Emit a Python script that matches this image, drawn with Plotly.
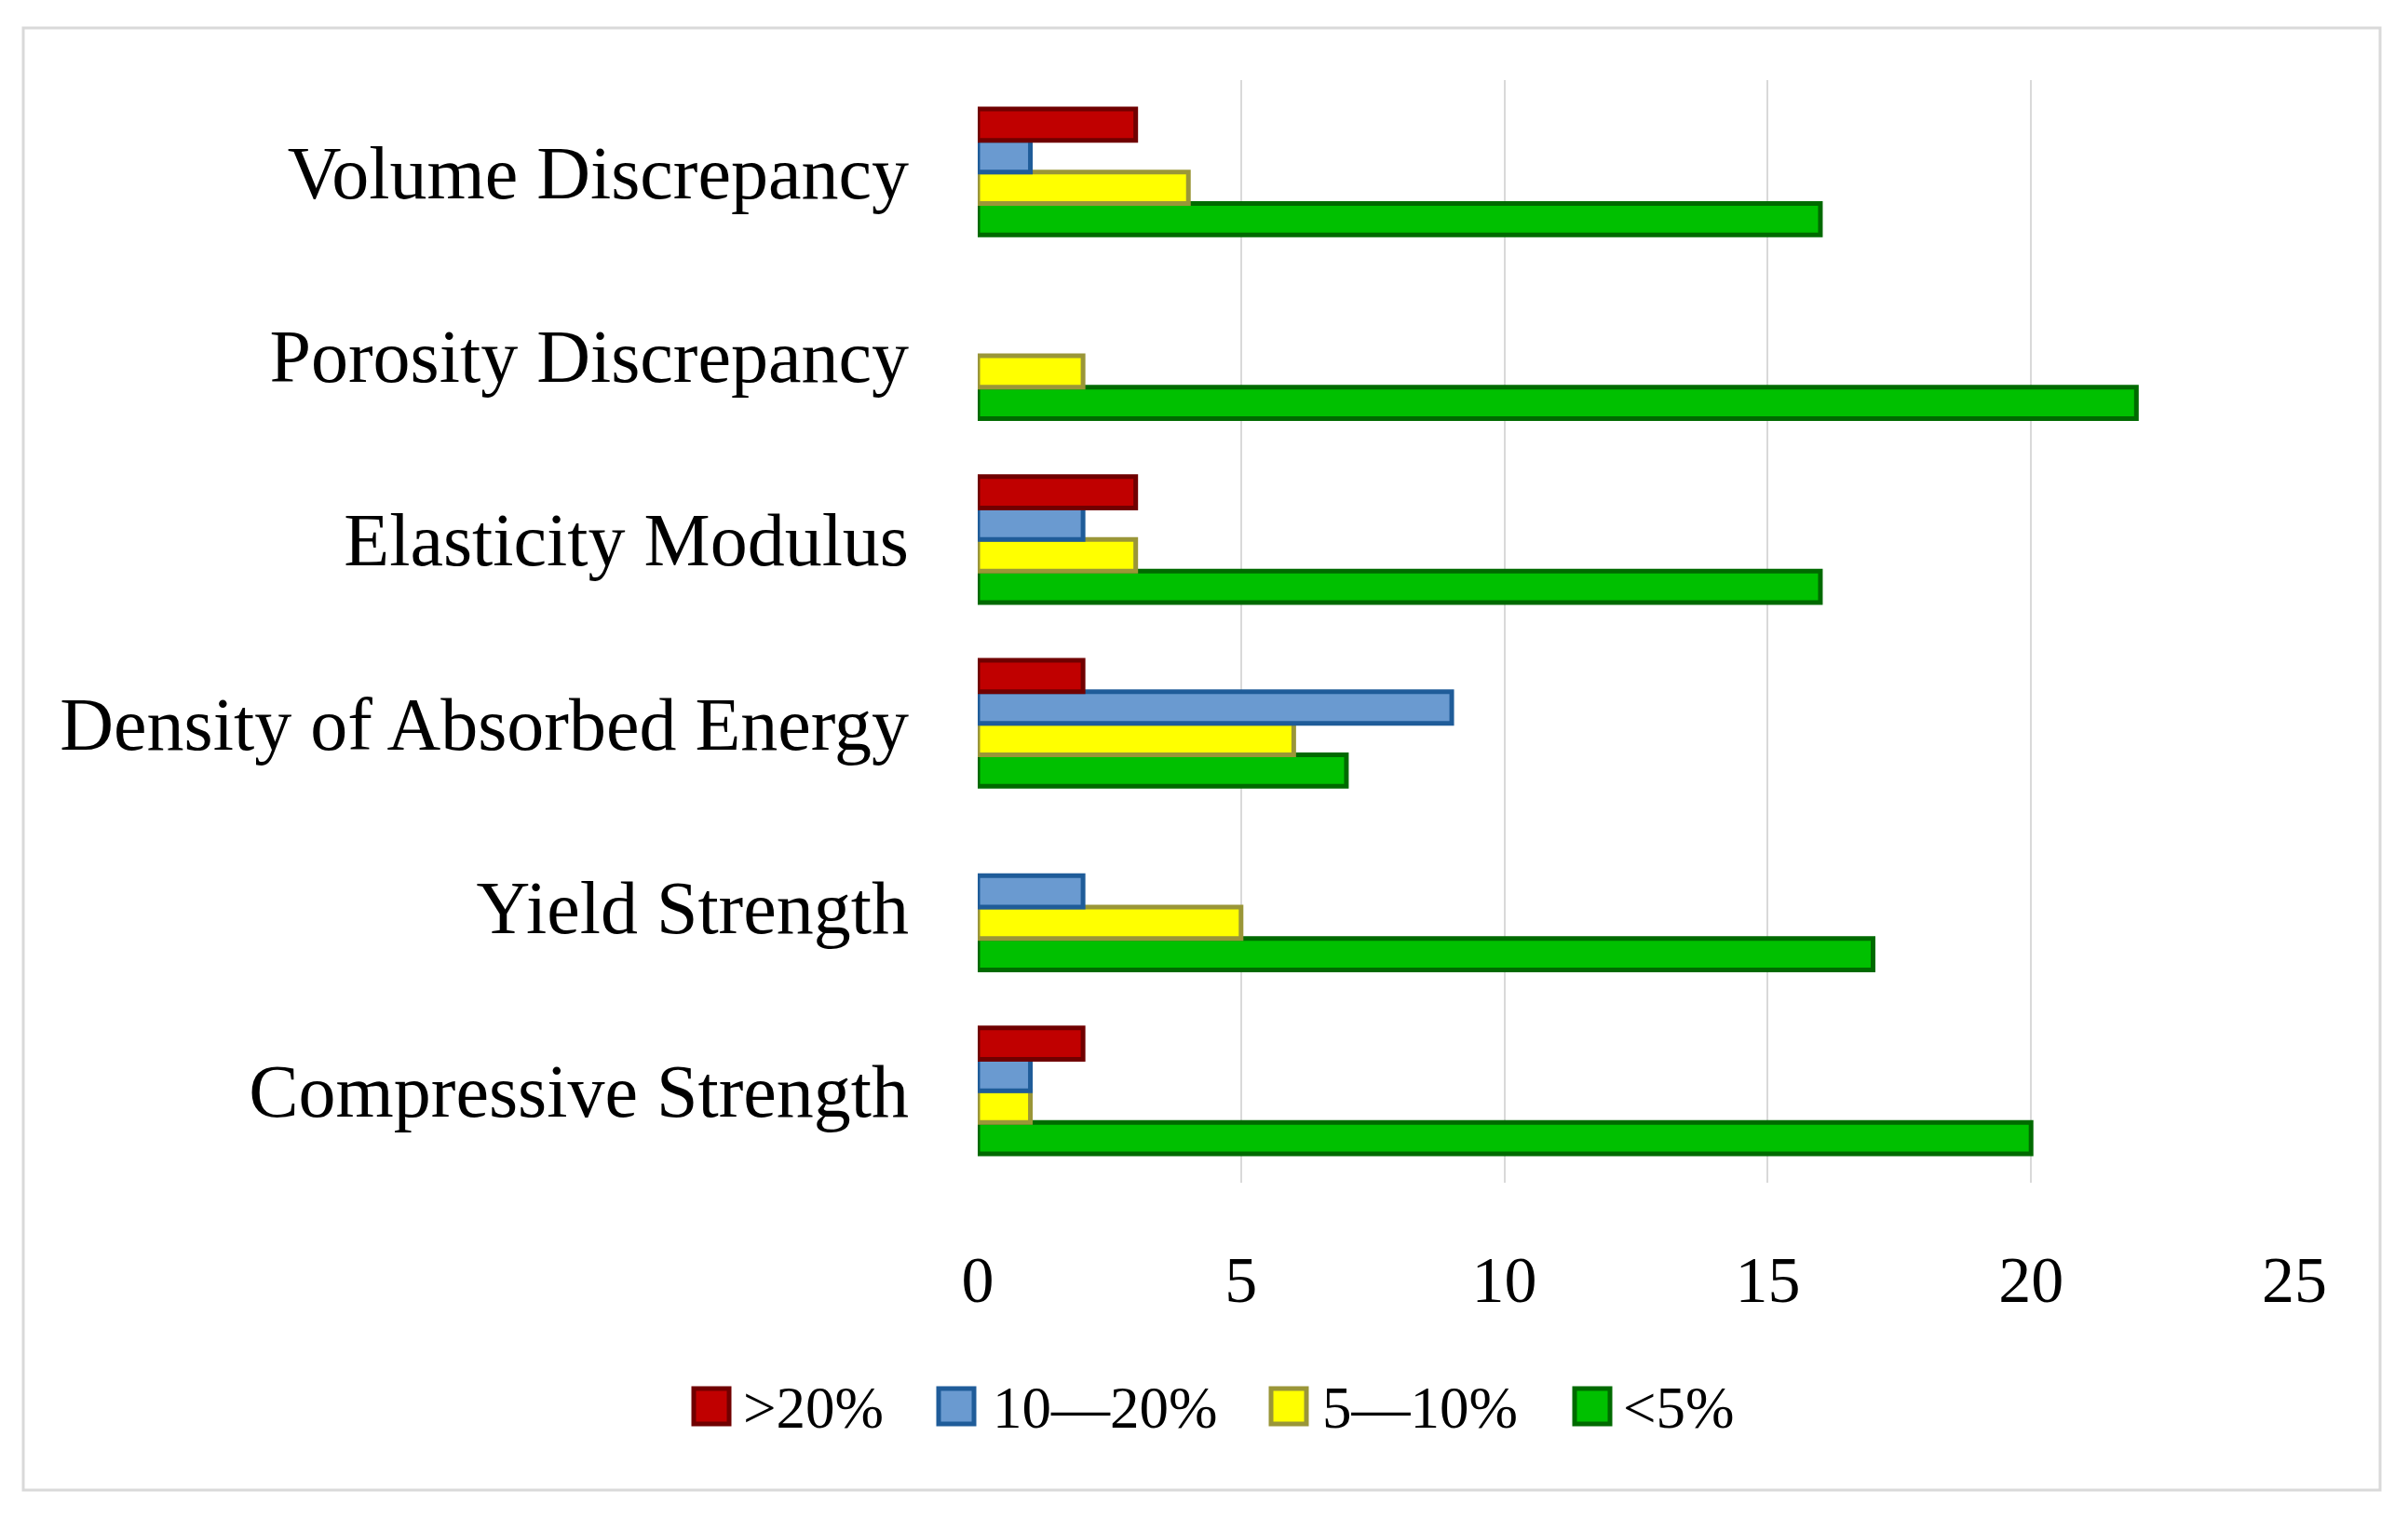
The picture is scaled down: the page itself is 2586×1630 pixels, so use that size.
import plotly.graph_objects as go

categories = ["Compressive Strength", "Yield Strength", "Density of Absorbed Energy",
              "Elasticity Modulus", "Porosity Discrepancy", "Volume Discrepancy"]
over20 = [2, 0, 2, 3, 0, 3]
p10_20 = [1, 2, 9, 2, 0, 1]
p5_10 = [1, 5, 6, 3, 2, 4]
under5 = [20, 17, 7, 16, 22, 16]
legend_names = [">20%", "10\u201420%", "5\u201410%", "<5%"]

fills = {">20%": "#C00000", "10\u201420%": "#6A9AD0", "5\u201410%": "#FFFF00", "<5%": "#00C000"}
lines = {">20%": "#700000", "10\u201420%": "#1F5C99", "5\u201410%": "#9A9638", "<5%": "#006A00"}
values = {">20%": over20, "10\u201420%": p10_20, "5\u201410%": p5_10, "<5%": under5}

fig = go.Figure()
for name in reversed(legend_names):
    vals = [v if v else None for v in values[name]]
    fig.add_trace(go.Bar(
        y=categories, x=vals, name=name, orientation="h", showlegend=False,
        marker=dict(color=fills[name], line=dict(color=lines[name], width=5)),
    ))

OFF = 8  # browser body margin
W, H = 2586 - 2 * OFF, 1630 - 2 * OFF
PL, PR, PT, PB = 1050, 2464, 86, 1270  # plot area in page pixels
L, R, T, B = PL - OFF, W - (PR - OFF), PT - OFF, H - (PB - OFF)
pw, ph = PR - PL, PB - PT

def px(x):
    return (x - PL) / pw

def py(y):
    return (PB - y) / ph

shapes = [dict(type="rect", xref="paper", yref="paper",
               x0=px(25), x1=px(2556), y0=py(1600), y1=py(30),
               line=dict(color="#D9D9D9", width=3), fillcolor="rgba(0,0,0,0)",
               layer="below")]
annotations = []
box_x = [742, 1005, 1362, 1688]
text_x = [796, 1064, 1418, 1741]
for name, bx, tx in zip(legend_names, box_x, text_x):
    shapes.append(dict(type="rect", xref="paper", yref="paper",
                       x0=px(bx + 3), x1=px(bx + 41), y0=py(1529), y1=py(1491),
                       line=dict(color=lines[name], width=5), fillcolor=fills[name]))
    annotations.append(dict(xref="paper", yref="paper", x=px(tx), y=py(1512),
                            xanchor="left", yanchor="middle", showarrow=False,
                            text=name, font=dict(size=63, family="Liberation Serif",
                                                 color="#000000")))

fig.update_layout(
    width=W, height=H,
    margin=dict(l=L, r=R, t=T, b=B),
    paper_bgcolor="white", plot_bgcolor="white",
    barmode="group", bargap=0.315, bargroupgap=0,
    font=dict(family="Liberation Serif", color="#000000"),
    showlegend=False,
    xaxis=dict(range=[0, 25], dtick=5, showgrid=True, gridcolor="#D9D9D9", gridwidth=2,
               zeroline=False, showline=False, ticks="",
               tickfont=dict(size=70, family="Liberation Serif"),
               ticklabelstandoff=57),
    yaxis=dict(categoryorder="array", categoryarray=categories, showgrid=False,
               zeroline=False, showline=False, ticks="",
               tickfont=dict(size=80, family="Liberation Serif"),
               ticklabelstandoff=73),
    shapes=shapes,
    annotations=annotations,
)

fig.write_html("out.html")
